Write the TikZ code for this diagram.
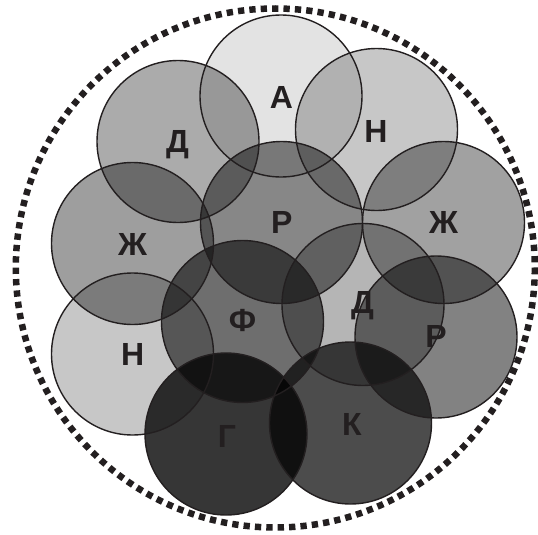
\documentclass[tikz,border=0pt]{standalone}
\usepackage{fontspec}
\setmainfont{Liberation Sans}
\definecolor{inkline}{HTML}{231F20}
\tikzset{
  disc/.style={fill=black, fill opacity=#1},
  ring/.style={draw=inkline, line width=1.4pt},
  letter/.style={font=\fontsize{32}{32}\selectfont\bfseries, text=inkline, inner sep=0pt, text height=23pt, text depth=0pt, anchor=center},
  outerdots/.style={draw=inkline, line width=6.5pt, dash pattern=on 6.3pt off 5.1pt}
}
\begin{document}
\begin{tikzpicture}[x=1pt,y=-1pt]
\useasboundingbox (0,0) rectangle (538,535);
\draw[outerdots] (275.3,268) circle (259.5);
% fills
\foreach \cx/\cy/\al in {281/96/0.11, 376.5/129.5/0.22, 178/141.5/0.33, 281.5/222.5/0.47, 443.5/222.5/0.37, 132.5/243.5/0.38, 363/304.5/0.29, 242.5/321.5/0.57, 132.5/354/0.22, 436/337/0.49, 226/434/0.79, 350.5/423/0.70}{
  \fill[disc=\al] (\cx,\cy) circle (81);
}
% outlines
\foreach \cx/\cy in {281/96, 376.5/129.5, 178/141.5, 281.5/222.5, 443.5/222.5, 132.5/243.5, 363/304.5, 242.5/321.5, 132.5/354, 436/337, 226/434, 350.5/423}{
  \draw[ring] (\cx,\cy) circle (81);
}
% labels
\node[letter] (la) at (281.5,96.5) {А};
\node[letter] (lh1) at (376,130.5) {Н};
\node[letter] (ld1) at (177.5,141) {Д};
\node[letter] (lr1) at (281.7,221.7) {Р};
\node[letter] (lzh1) at (443.7,221.7) {Ж};
\node[letter] (lzh2) at (132.5,244) {Ж};
\node[letter] (ld2) at (362.5,301.5) {Д};
\node[letter] (lf) at (242.5,320) {Ф};
\node[letter] (lh2) at (132.7,354) {Н};
\node[letter] (lr2) at (436,336) {Р};
\node[letter] (lg) at (227,436) {Г};
\node[letter] (lk) at (352,424) {К};
\end{tikzpicture}
\end{document}
